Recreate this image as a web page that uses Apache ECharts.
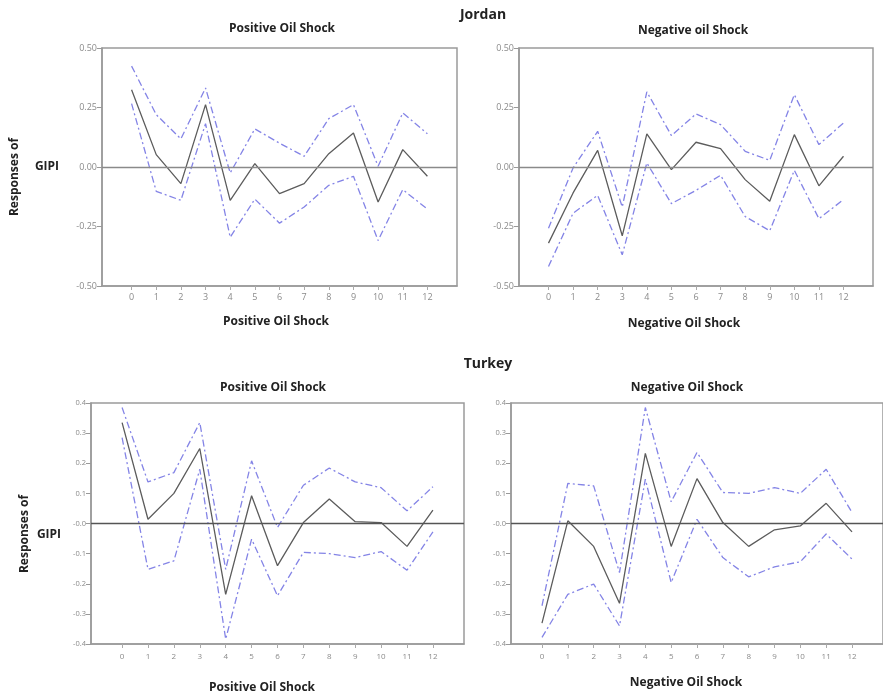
<!DOCTYPE html>
<html>
<head>
<meta charset="utf-8">
<script src="https://cdn.jsdelivr.net/npm/echarts@6/dist/echarts.min.js"></script>
<style>
  html, body { margin: 0; padding: 0; background: #fff; }
  #main { width: 883px; height: 697px; }
</style>
</head>
<body>
<div id="main"></div>
<script>
// horizon steps
var steps = [0, 1, 2, 3, 4, 5, 6, 7, 8, 9, 10, 11, 12];
var jordanTicks = ['-0.50', '-0.25', '0.00', '0.25', '0.50'];
var turkeyTicks = ['-0.4', '-0.3', '-0.2', '-0.1', '-0.0', '0.1', '0.2', '0.3', '0.4'];

// Jordan, positive shock
var joPosMid = [0.325, 0.052, -0.07, 0.262, -0.14, 0.014, -0.112, -0.07, 0.056, 0.143, -0.147, 0.073, -0.039];
var joPosUp  = [0.424, 0.22, 0.118, 0.332, -0.025, 0.16, 0.10, 0.045, 0.203, 0.262, 0.003, 0.227, 0.14];
var joPosLo  = [0.266, -0.102, -0.14, 0.182, -0.295, -0.135, -0.236, -0.168, -0.077, -0.039, -0.309, -0.095, -0.177];

// Jordan, negative shock
var joNegMid = [-0.32, -0.109, 0.07, -0.289, 0.139, -0.011, 0.104, 0.077, -0.053, -0.144, 0.136, -0.079, 0.045];
var joNegUp  = [-0.257, -0.004, 0.15, -0.168, 0.316, 0.132, 0.223, 0.178, 0.066, 0.028, 0.304, 0.094, 0.185];
var joNegLo  = [-0.418, -0.194, -0.119, -0.369, 0.017, -0.154, -0.098, -0.035, -0.208, -0.268, -0.014, -0.217, -0.137];

// Turkey, positive shock
var tuPosMid = [0.335, 0.014, 0.10, 0.249, -0.235, 0.092, -0.14, 0.003, 0.081, 0.006, 0.003, -0.076, 0.044];
var tuPosUp  = [0.385, 0.138, 0.169, 0.335, -0.152, 0.208, -0.013, 0.127, 0.184, 0.138, 0.119, 0.042, 0.122];
var tuPosLo  = [0.285, -0.152, -0.124, 0.18, -0.384, -0.052, -0.24, -0.096, -0.10, -0.113, -0.093, -0.155, -0.028];

// Turkey, negative shock
var tuNegMid = [-0.331, 0.009, -0.076, -0.265, 0.233, -0.076, 0.149, 0.003, -0.076, -0.021, -0.008, 0.067, -0.028];
var tuNegUp  = [-0.273, 0.133, 0.125, -0.163, 0.385, 0.072, 0.236, 0.103, 0.10, 0.119, 0.10, 0.18, 0.037];
var tuNegLo  = [-0.378, -0.235, -0.201, -0.34, 0.147, -0.196, 0.014, -0.113, -0.177, -0.144, -0.127, -0.035, -0.118];

var font = '"Open Sans", "DejaVu Sans", sans-serif';
var boxColor = '#9a9a9a';
var bandColor = '#8484e6';
var midColor = '#5c5c5c';

var myChart = echarts.init(document.getElementById('main'));

function pairs(vals) {
  return steps.map(function (s, i) { return [s, vals[i]]; });
}

var grids = [
  { left: 102, top: 48, width: 355, height: 238 },
  { left: 519, top: 48, width: 354, height: 238 },
  { left: 91, top: 403, width: 373, height: 241 },
  { left: 511, top: 403, width: 373, height: 241 }
];

var xAxes = grids.map(function (g, i) {
  return {
    type: 'value', gridIndex: i, min: -1.2, max: 13.2,
    axisLine: { onZero: false, lineStyle: { color: boxColor, width: 1.5 } },
    axisTick: { customValues: steps, length: 4, lineStyle: { color: '#aaa' } },
    axisLabel: {
      customValues: steps, color: '#8a8a8a', fontSize: i < 2 ? 9 : 8,
      fontFamily: font, margin: i < 2 ? 7 : 9,
      formatter: function (v) { return String(v); }
    },
    splitLine: { show: false }
  };
});

var yAxes = grids.map(function (g, i) {
  var jo = i < 2;
  return {
    type: 'value', gridIndex: i,
    min: jo ? -0.5 : -0.4, max: jo ? 0.5 : 0.4, interval: jo ? 0.25 : 0.1,
    axisLine: { show: true, onZero: false, lineStyle: { color: boxColor, width: 1.5 } },
    axisTick: { show: true, length: 5, lineStyle: { color: '#999' } },
    axisLabel: {
      color: '#8a8a8a', fontSize: jo ? 9 : 7.5, fontFamily: font, margin: 5,
      formatter: function (v, idx) { return (jo ? jordanTicks : turkeyTicks)[idx]; }
    },
    splitLine: { show: false }
  };
});

var sets = [
  [joPosMid, joPosUp, joPosLo],
  [joNegMid, joNegUp, joNegLo],
  [tuPosMid, tuPosUp, tuPosLo],
  [tuNegMid, tuNegUp, tuNegLo]
];

var series = [];
sets.forEach(function (s, i) {
  [s[1], s[2]].forEach(function (band) {
    series.push({
      type: 'line', xAxisIndex: i, yAxisIndex: i, data: pairs(band),
      symbol: 'none', silent: true,
      lineStyle: { color: bandColor, width: 1.3, type: [7, 3, 2, 3] }
    });
  });
  series.push({
    type: 'line', xAxisIndex: i, yAxisIndex: i, data: pairs(s[0]),
    symbol: 'none', silent: true, z: 3,
    lineStyle: { color: midColor, width: 1.3 },
    markLine: {
      silent: true, symbol: 'none', label: { show: false },
      lineStyle: { color: i < 2 ? '#8a8a8a' : '#555', width: 1.4, type: 'solid' },
      data: [{ yAxis: 0 }]
    }
  });
});

function txt(x, y, s, size, rot) {
  return {
    type: 'text', x: x, y: y, rotation: rot || 0,
    style: {
      text: s, fill: '#222', font: 'bold ' + size + 'px ' + font,
      textAlign: 'center', textVerticalAlign: 'middle'
    }
  };
}

var option = {
  backgroundColor: '#fff',
  animation: false,
  grid: grids.map(function (g) {
    return Object.assign({ show: true, borderColor: boxColor, borderWidth: 1.5, backgroundColor: '#fff' }, g);
  }),
  xAxis: xAxes,
  yAxis: yAxes,
  series: series,
  graphic: [
    txt(483, 15, 'Jordan', 14),
    txt(282, 29, 'Positive Oil Shock', 12),
    txt(693, 31, 'Negative oil Shock', 12),
    txt(276, 322, 'Positive Oil Shock', 12),
    txt(684, 324, 'Negative Oil Shock', 12),
    txt(15, 177, 'Responses of', 12, Math.PI / 2),
    txt(47, 167, 'GIPI', 12),
    txt(488, 364, 'Turkey', 14),
    txt(273, 388, 'Positive Oil Shock', 12),
    txt(687, 388, 'Negative Oil Shock', 12),
    txt(262, 688, 'Positive Oil Shock', 12),
    txt(686, 683, 'Negative Oil Shock', 12),
    txt(25, 534, 'Responses of', 12, Math.PI / 2),
    txt(49, 535, 'GIPI', 12)
  ]
};

option && myChart.setOption(option);
</script>
</body>
</html>
